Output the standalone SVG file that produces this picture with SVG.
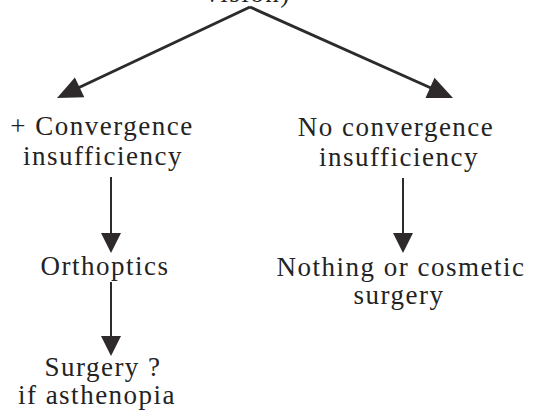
<svg xmlns="http://www.w3.org/2000/svg" width="534" height="420" viewBox="0 0 534 420">
<style>
text{font-size:27px;fill:#232323;text-anchor:middle;letter-spacing:1.5px}
.ln{stroke:#2b2b2b;fill:none}
.hd{fill:#2e2a2b}
</style>
<rect width="534" height="420" fill="#ffffff"/>
<g id="connectors">
<path class="ln" stroke-width="3" d="M250,7 L78,88"/>
<polygon class="hd" points="57,98 74.9,77.4 84.3,97.2"/>
<path class="ln" stroke-width="3" d="M250,7 L431,88"/>
<polygon class="hd" points="453,98 434.5,77.8 425.5,97.9"/>
<path class="ln" stroke-width="2" d="M111,177 L111,234"/>
<polygon class="hd" points="101,233 121,233 111,253"/>
<path class="ln" stroke-width="2" d="M111,282 L111,337"/>
<polygon class="hd" points="101,336 121,336 111,356"/>
<path class="ln" stroke-width="2" d="M403,178 L403,234"/>
<polygon class="hd" points="393,233 413,233 403,253"/>
</g>
<g font-family="Liberation Serif, Tinos, Times New Roman, DejaVu Serif, serif">
<g id="node-top"><text x="248" y="2">vision)</text></g>
<g id="node-cvi"><text x="102" y="135">+ Convergence</text><text x="103" y="165">insufficiency</text></g>
<g id="node-nocvi"><text x="396" y="136">No convergence</text><text x="399" y="166">insufficiency</text></g>
<g id="node-orthoptics"><text x="105" y="275">Orthoptics</text></g>
<g id="node-nothing"><text x="401" y="276">Nothing or cosmetic</text><text x="399" y="304">surgery</text></g>
<g id="node-surgery"><text x="103" y="376">Surgery ?</text><text x="97" y="404">if asthenopia</text></g>
</g>
</svg>
